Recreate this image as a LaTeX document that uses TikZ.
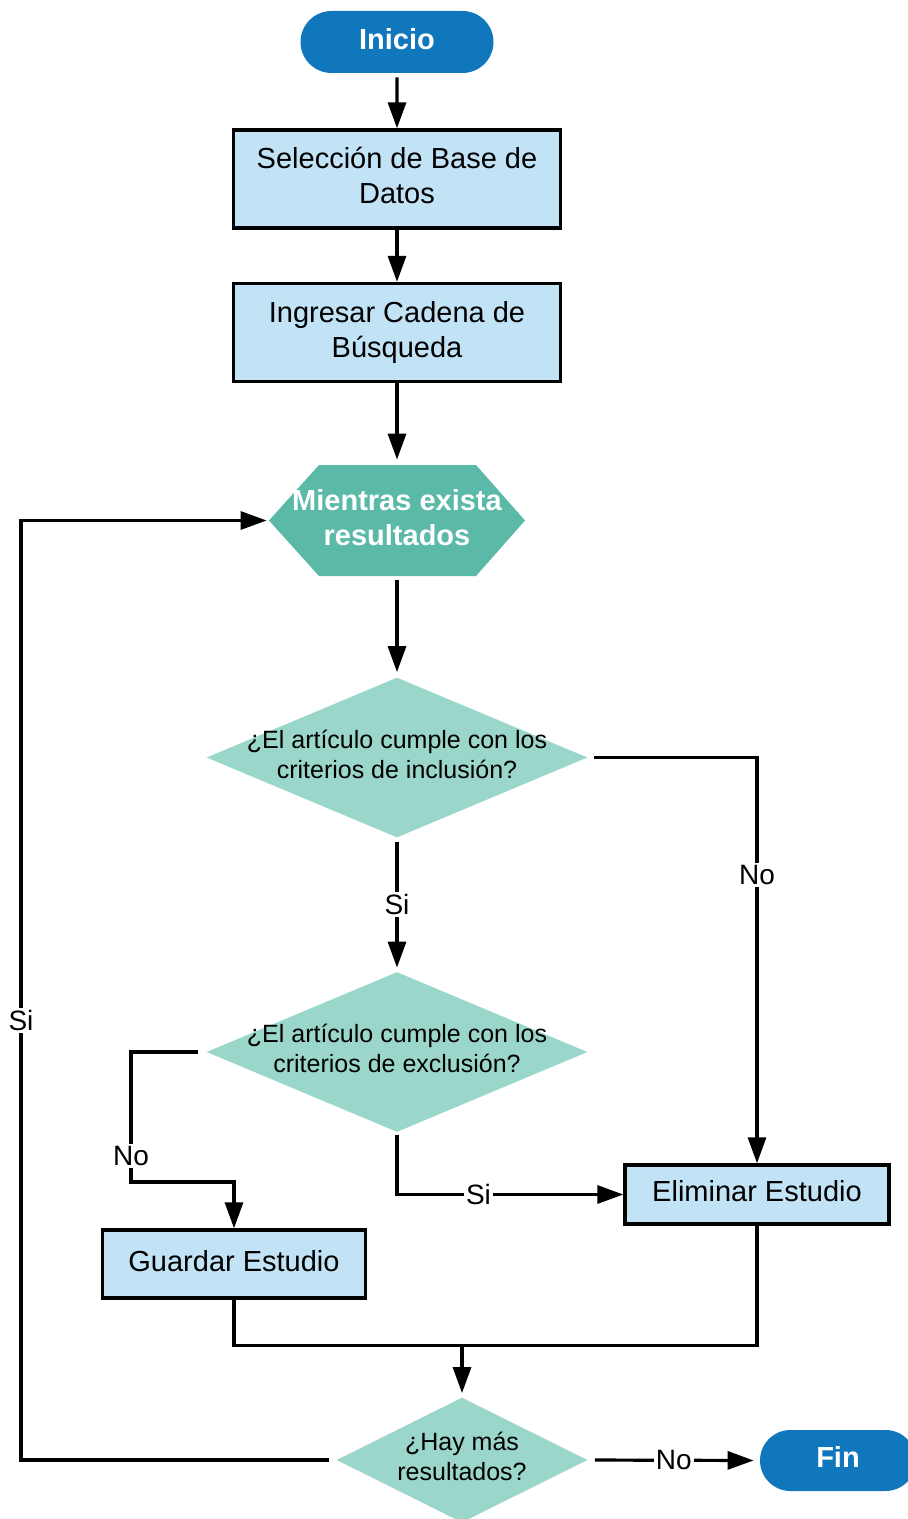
\documentclass[tikz,border=0pt]{standalone}
\usepackage{fontspec}
\setmainfont{Liberation Sans}
\usetikzlibrary{shapes.geometric,shapes.misc}
\usetikzlibrary{arrows.meta}
\definecolor{azul}{RGB}{16,119,188}
\definecolor{celeste}{RGB}{194,227,245}
\definecolor{verde}{RGB}{91,185,167}
\definecolor{verdeclaro}{RGB}{155,214,203}

\begin{document}
\begin{tikzpicture}[x=0.5pt,y=-0.5pt]
\tikzset{
	Terminal/.style = {rounded rectangle, fill=azul, text=white, inner sep=0pt, text depth=3.5pt,
		font=\fontsize{14.5}{17.5}\selectfont\bfseries},
	Proceso/.style = {rectangle, draw, line width=1.7pt, fill=celeste, align=center, text depth=3.5pt,
		font=\fontsize{14.5}{17.5}\selectfont},
	Decision/.style = {diamond, fill=verdeclaro, inner sep=0pt},
	Pregunta/.style = {align=center, text depth=3.5pt, font=\fontsize{12.5}{15}\selectfont},
	Linea/.style = {line width=1.6pt},
	Flecha/.style = {Linea, -{Triangle[length=13pt,width=9pt]}},
	Etiqueta/.style = {fill=white, inner sep=1pt, font=\fontsize{14}{16}\selectfont}
}
\useasboundingbox (0,0) rectangle (908,1519);
\node[Terminal, minimum width=96.5pt, minimum height=31pt] (Inicio) at (397,42) {Inicio};
\node[Proceso, minimum width=163.5pt, minimum height=49pt] (Base) at (397,179) {Selección de Base de\\Datos};
\node[Proceso, minimum width=163.5pt, minimum height=49pt] (Cadena) at (397,332.5) {Ingresar Cadena de\\Búsqueda};
\fill[verde] (269,520.5) -- (319,465) -- (476,465) -- (525,520.5) -- (476,576) -- (319,576) -- cycle;
\node[text=white, align=center, minimum width=128pt, minimum height=55.5pt, text depth=3.5pt,
	font=\fontsize{14.5}{17.5}\selectfont\bfseries] (Mientras) at (397,520.5) {Mientras exista\\resultados};
\node[Decision, minimum width=190.5pt, minimum height=80pt,
	label={[Pregunta]center:¿El artículo cumple con los\\criterios de inclusión?}] (Inclusion) at (397,757.5) {};
\node[Decision, minimum width=190.5pt, minimum height=80pt,
	label={[Pregunta]center:¿El artículo cumple con los\\criterios de exclusión?}] (Exclusion) at (397,1052) {};
\node[Proceso, minimum width=132pt, minimum height=29.5pt] (Eliminar) at (757,1194.5) {Eliminar Estudio};
\node[Proceso, minimum width=131.5pt, minimum height=34pt] (Guardar) at (234,1264) {Guardar Estudio};
\node[Decision, minimum width=125.5pt, minimum height=62.5pt,
	label={[Pregunta]center:¿Hay más\\resultados?}] (Mas) at (462,1460) {};
\node[Terminal, minimum width=78pt, minimum height=30.5pt] (Fin) at (838,1460.5) {Fin};
\coordinate (Union) at (462,1345.5);
\coordinate (Retorno) at (21,1460);

\draw[Flecha, shorten <=2pt] (Inicio) -- (Base);
\draw[Flecha] (Base) -- (Cadena);
\draw[Flecha, shorten >=2.5pt] (Cadena) -- (Mientras);
\draw[Flecha, shorten <=2pt, shorten >=2.5pt] (Mientras) -- (Inclusion);
\draw[Flecha, shorten <=3pt] (Inclusion.east) -| node[Etiqueta, pos=0.645]{No} (Eliminar.north);
\draw[Flecha, shorten <=2pt, shorten >=2pt] (Inclusion.south) -- node[Etiqueta]{Si} (Exclusion.north);
\draw[Flecha, shorten <=4pt] (Exclusion.west) -| node[Etiqueta, pos=0.9]{No} (131,1182) -| (Guardar.north);
\draw[Flecha, shorten <=1.5pt] (Exclusion.south) |- node[Etiqueta, pos=0.68]{Si} (Eliminar.west);
\draw[Linea] (Guardar.south) |- (Eliminar.south |- Union) -- (Eliminar.south);
\draw[Flecha, shorten >=2pt] (Union) -- (Mas.north);
\draw[Flecha, shorten <=3.5pt, shorten >=1pt] (Mas.west) -- (Retorno) |- node[Etiqueta, pos=0.234]{Si} (Mientras.west);
\draw[Flecha, shorten <=3.5pt, shorten >=3pt] (Mas.east) -- node[Etiqueta]{No} (Fin.west);
\end{tikzpicture}
\end{document}
